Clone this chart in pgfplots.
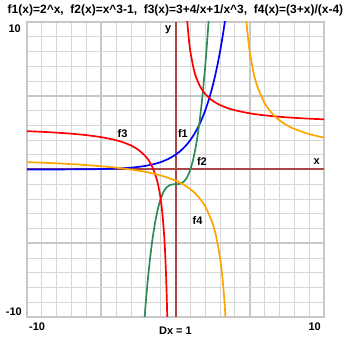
\documentclass[border=0pt]{standalone}
\usepackage{pgfplots}
\pgfplotsset{compat=1.18}
\usepackage{fontspec}
\setmainfont{Liberation Sans}
\definecolor{axred}{RGB}{170,70,70}
\definecolor{mgrid}{RGB}{200,200,200}
\definecolor{ngrid}{RGB}{215,215,215}
\definecolor{fgreen}{RGB}{46,139,87}
\definecolor{forange}{RGB}{255,165,0}
\begin{document}
\begin{tikzpicture}
\begin{axis}[name=ax, scale only axis, width=297pt, height=295pt,
  xmin=-10, xmax=10, ymin=-10, ymax=10,
  xtick={-10,-5,...,10}, ytick={-10,-5,...,10}, minor tick num=4,
  xticklabel=\empty, yticklabel=\empty,
  major tick length=0pt, minor tick length=0pt,
  grid=both,
  major grid style={draw=mgrid, line width=2pt},
  minor grid style={draw=ngrid, line width=0.9pt},
  axis line style={draw=mgrid, line width=1.5pt},
  every axis plot/.append style={line width=1.7pt},
  font=\bfseries\fontsize{11}{13}\selectfont,
]
% axes
\addplot[axred, line width=2pt] coordinates {(-10,0) (10,0)};
\addplot[axred, line width=2pt] coordinates {(0,-10) (0,10)};
% f1 = 2^x
\addplot[blue, smooth] coordinates {
(-10,0.001) (-8,0.0039) (-6,0.0156) (-5,0.03125) (-4,0.0625) (-3,0.125)
(-2.5,0.1768) (-2,0.25) (-1.5,0.3536) (-1,0.5) (-0.5,0.7071) (0,1)
(0.25,1.1892) (0.5,1.4142) (0.75,1.6818) (1,2) (1.25,2.3784) (1.5,2.8284)
(1.75,3.3636) (2,4) (2.25,4.7568) (2.5,5.6569) (2.75,6.7272) (3,8)
(3.25,9.5137) (3.5,11.3137)};
% f2 = x^3-1
\addplot[fgreen, smooth] coordinates {
(-2.2,-11.648) (-2.0,-9) (-1.8,-6.832) (-1.6,-5.096) (-1.4,-3.744)
(-1.2,-2.728) (-1.0,-2) (-0.8,-1.512) (-0.6,-1.216) (-0.4,-1.064)
(-0.2,-1.008) (0,-1) (0.2,-0.992) (0.4,-0.936) (0.6,-0.784) (0.8,-0.488)
(1.0,0) (1.2,0.728) (1.4,1.744) (1.6,3.096) (1.8,4.832) (2.0,7)
(2.1,8.261) (2.2,9.648) (2.3,11.167)};
% f3 = 3+4/x+1/x^3
\addplot[red, smooth] coordinates {
(-10,2.599) (-9,2.554) (-8,2.498) (-7,2.4257) (-6,2.3287) (-5,2.192)
(-4,1.984) (-3.5,1.8338) (-3,1.6296) (-2.5,1.336) (-2,0.875)
(-1.75,0.5277) (-1.5,0.037) (-1.25,-0.712) (-1.1,-1.3877) (-1,-2)
(-0.9,-2.8162) (-0.8,-3.9531) (-0.75,-4.7037) (-0.7,-5.6297)
(-0.65,-6.7952) (-0.6,-8.2963) (-0.55,-10.284) (-0.5,-13)};
\addplot[red, smooth] coordinates {
(0.7,11.63) (0.75,10.70) (0.8,9.953) (0.9,8.816) (1,8) (1.25,6.712)
(1.5,5.963) (1.75,5.472) (2,5.125) (2.5,4.664) (3,4.370) (3.5,4.166)
(4,4.0156) (5,3.808) (6,3.6713) (7,3.5743) (8,3.502) (9,3.4458) (10,3.401)};
% f4 = (3+x)/(x-4)
\addplot[forange, smooth] coordinates {
(-10,0.5) (-8,0.4167) (-6,0.3) (-4,0.125) (-3,0) (-2,-0.1667) (-1,-0.4)
(0,-0.75) (0.5,-1) (1,-1.3333) (1.5,-1.8) (2,-2.5) (2.5,-3.6667)
(2.75,-4.6) (3,-6) (3.1,-6.778) (3.2,-7.75) (3.3,-9) (3.35,-9.769)
(3.4,-10.667)};
\addplot[forange, smooth] coordinates {
(4.7,11) (4.75,10.333) (4.8,9.75) (4.9,8.778) (5,8) (5.25,6.6)
(5.5,5.667) (6,4.5) (6.5,3.8) (7,3.333) (7.5,3) (8,2.75) (9,2.4)
(10,2.1667)};
% labels
\node at (axis cs:-3.57,2.41) {f3};
\node at (axis cs:0.5,2.47) {f1};
\node at (axis cs:1.78,0.51) {f2};
\node at (axis cs:1.48,-3.49) {f4};
\node at (axis cs:9.5,0.51) {x};
\node at (axis cs:-0.5,9.5) {y};
\end{axis}
\begin{scope}[font=\bfseries\fontsize{11}{13}\selectfont]
\node[anchor=north east, inner sep=0pt] at ([xshift=-6pt,yshift=-3pt]ax.north west) {10};
\node[anchor=south east, inner sep=0pt] at ([xshift=-5pt,yshift=1pt]ax.south west) {-10};
\node[anchor=north west, inner sep=0pt] at ([xshift=2pt,yshift=-6pt]ax.south west) {-10};
\node[anchor=north east, inner sep=0pt] at ([xshift=-3pt,yshift=-6pt]ax.south east) {10};
\node[anchor=north, inner sep=0pt] at ([yshift=-10pt]ax.south) {Dx = 1};
\end{scope}
\node[anchor=base, inner sep=0pt, font=\bfseries\fontsize{12}{14}\selectfont] at ([yshift=8.5pt]ax.north) {f1(x)=2\^{}x,\ \ f2(x)=x\^{}3-1,\ \ f3(x)=3+4/x+1/x\^{}3,\ \ f4(x)=(3+x)/(x-4)};
\path[use as bounding box] ([xshift=-27pt,yshift=-22pt]ax.south west) rectangle ([xshift=21pt,yshift=22pt]ax.north east);
\end{tikzpicture}
\end{document}
